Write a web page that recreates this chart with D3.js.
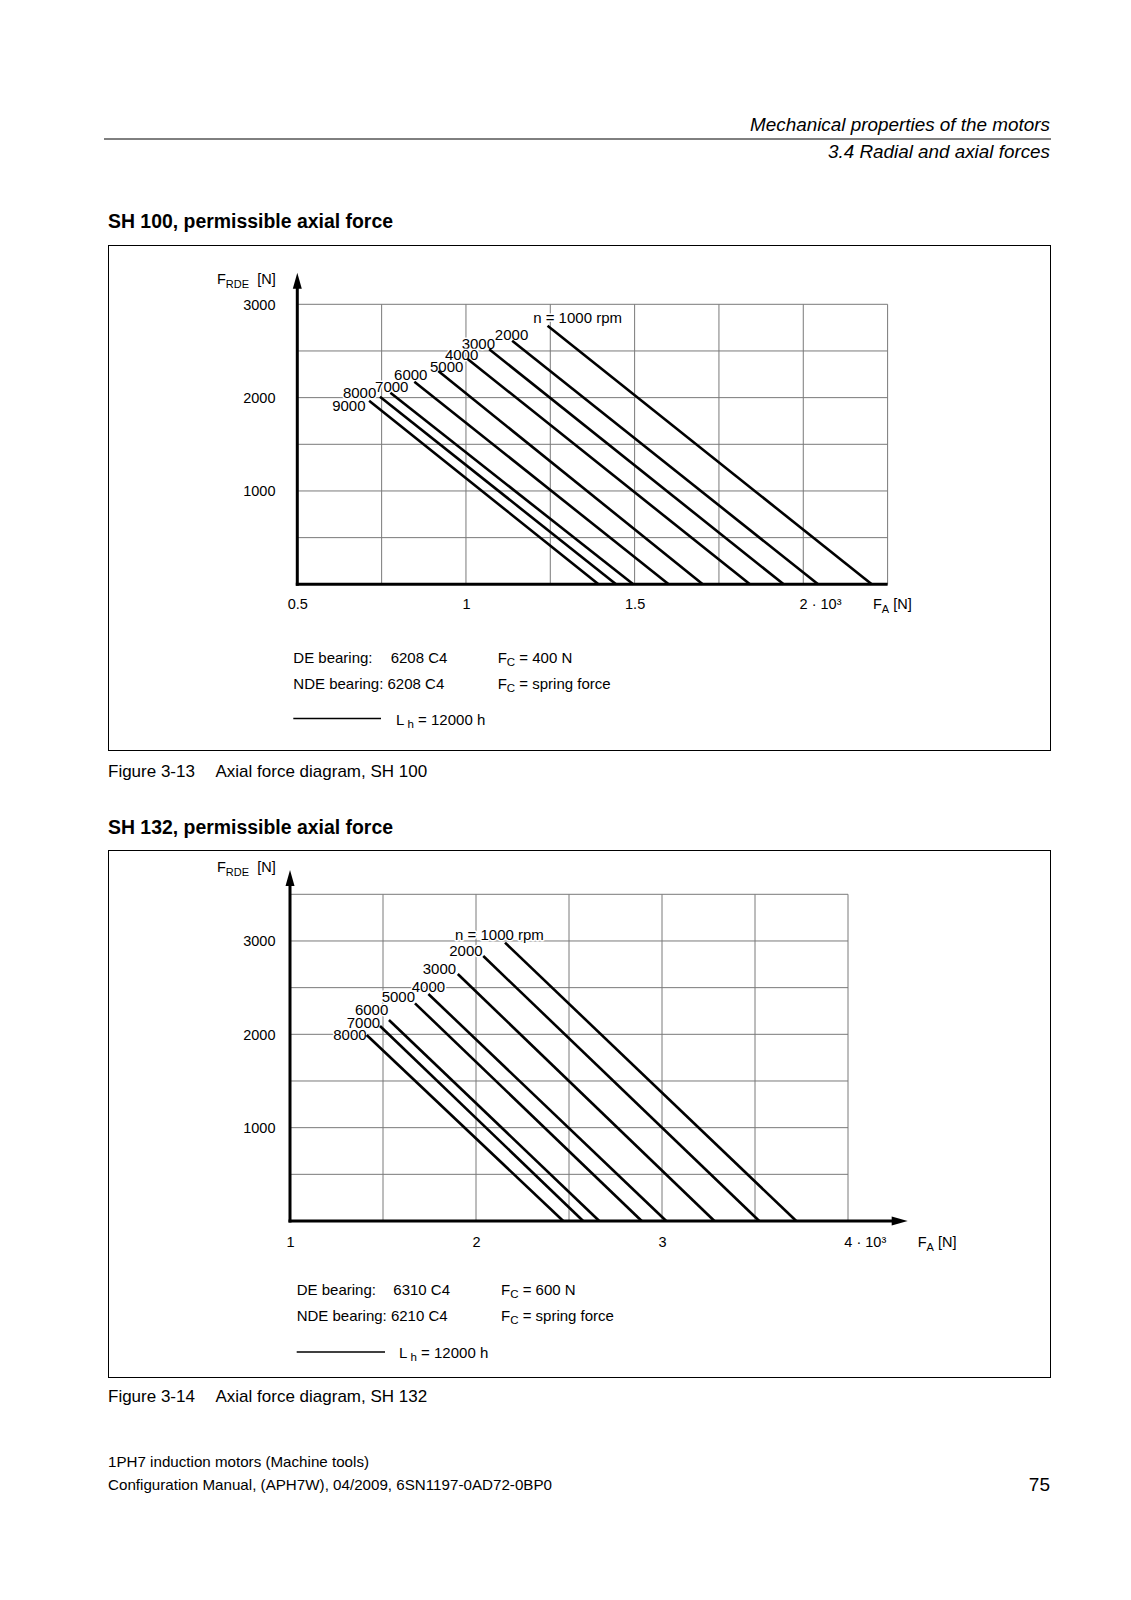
<!DOCTYPE html>
<html><head><meta charset="utf-8">
<script src="https://cdn.jsdelivr.net/npm/d3@7"></script>
<style>
body{margin:0;background:#fff}
svg{display:block}
text{font-family:"Liberation Sans",Arial,sans-serif;fill:#000}
</style>
</head><body>
<svg id="page" width="1131" height="1600"></svg>
<script>
// ---------------- DATA ----------------
// SH 100 (x in 10^3 N, y in N)
const speeds100 = [1000,2000,3000,4000,5000,6000,7000,8000,9000];
const curveLabels100 = ["n = 1000 rpm","2000","3000","4000","5000","6000","7000","8000","9000"];
const startFA100 = [1.242,1.137,1.069,1.005,0.918,0.847,0.776,0.745,0.713];
const startFR100 = [2771,2610,2518,2414,2285,2171,2053,2010,1967];
const endFA100   = [2.203,2.044,1.942,1.842,1.702,1.601,1.496,1.445,1.393];
const xTicks100 = [0.5,1,1.5,2];
const xTickLabels100 = ["0.5","1","1.5","2 · 10³"];
const xGrid100 = [0.5,0.75,1,1.25,1.5,1.75,2,2.25];
const yTicks100 = [1000,2000,3000];
const yGrid100 = [0,500,1000,1500,2000,2500,3000];
const legend100 = {de:"6208 C4", nde:"6208 C4", fc:"400 N", lh:"12000 h"};

// SH 132
const speeds132 = [1000,2000,3000,4000,5000,6000,7000,8000];
const curveLabels132 = ["n = 1000 rpm","2000","3000","4000","5000","6000","7000","8000"];
const startFA132 = [2.156,2.039,1.902,1.744,1.672,1.532,1.484,1.412];
const startFR132 = [2982,2839,2646,2432,2332,2154,2089,1993];
const endFA132   = [3.722,3.523,3.282,3.023,2.891,2.663,2.576,2.469];
const xTicks132 = [1,2,3,4];
const xTickLabels132 = ["1","2","3","4 · 10³"];
const xGrid132 = [1,1.5,2,2.5,3,3.5,4];
const yTicks132 = [1000,2000,3000];
const yGrid132 = [0,500,1000,1500,2000,2500,3000,3500];
const legend132 = {de:"6310 C4", nde:"6210 C4", fc:"600 N", lh:"12000 h"};

// ---------------- LAYOUT ----------------
const svg = d3.select("#page");
const FONT = '"Liberation Sans",Arial,sans-serif';

function txt(g, x, y, parts, opt){
  opt = opt||{};
  const t = g.append("text").attr("x",x).attr("y",y)
    .attr("dominant-baseline","central")
    .style("font-size",(opt.size||14)+"px")
    .style("font-weight",opt.weight||"normal")
    .style("font-style",opt.italic?"italic":"normal")
    .attr("text-anchor",opt.anchor||"start");
  if(opt.len){t.attr("textLength",opt.len).attr("lengthAdjust","spacingAndGlyphs");}
  if(typeof parts==="string"){t.text(parts);}
  else parts.forEach(p=>{
    const s=t.append("tspan").text(p.t);
    if(p.sub){s.attr("dy",p.dy||4).style("font-size",(p.size||11)+"px");}
    if(p.back){s.attr("dy",-(p.back));}
  });
  return t;
}

// Page header
svg.append("line").attr("x1",104).attr("x2",1051).attr("y1",139).attr("y2",139)
  .attr("stroke","#000").attr("stroke-width",1);
txt(svg,750,124.5,"Mechanical properties of the motors",{size:18.5,italic:true,len:300});
txt(svg,828,151,"3.4 Radial and axial forces",{size:18.5,italic:true,len:222});

function chart(cfg){
  const g = svg.append("g");
  txt(svg,108,cfg.titleY,cfg.title,{size:20,weight:"bold",len:285});
  g.append("rect").attr("x",108.5).attr("y",cfg.boxTop+0.5).attr("width",942)
    .attr("height",cfg.boxBottom-cfg.boxTop).attr("fill","none").attr("stroke","#000").attr("stroke-width",1);
  txt(svg,108,cfg.capY,cfg.capA,{size:17});
  txt(svg,215.5,cfg.capY,cfg.capB,{size:17});

  const x = d3.scaleLinear().domain(cfg.xDom).range(cfg.xRange);
  const y = d3.scaleLinear().domain(cfg.yDom).range(cfg.yRange);
  const [x0,x1] = cfg.xRange, [y0,y1] = cfg.yRange;

  // grid
  g.append("g").selectAll("line").data(cfg.xGrid).join("line")
    .attr("x1",d=>x(d)).attr("x2",d=>x(d)).attr("y1",y1).attr("y2",y0)
    .attr("stroke","#7a7a7a").attr("stroke-width",1);
  g.append("g").selectAll("line").data(cfg.yGrid).join("line")
    .attr("x1",x0).attr("x2",x1).attr("y1",d=>y(d)).attr("y2",d=>y(d))
    .attr("stroke","#7a7a7a").attr("stroke-width",1);

  // curve labels with white halo
  const n = cfg.speeds.length;
  const pts = d3.range(n).map(i=>({s:[cfg.sFA[i],cfg.sFR[i]], e:[cfg.eFA[i],0], lab:cfg.labels[i], off:cfg.offs[i]}));
  g.append("g").selectAll("text").data(pts).join("text")
    .attr("x",d=>x(d.s[0])+d.off[0]).attr("y",d=>y(d.s[1])+d.off[1])
    .attr("dominant-baseline","central")
    .style("font-size","15px")
    .attr("stroke","#fff").attr("stroke-width",3).attr("paint-order","stroke")
    .style("stroke-linejoin","round")
    .text(d=>d.lab);

  // curves
  const line = d3.line().x(d=>x(d[0])).y(d=>y(d[1]));
  g.append("g").selectAll("path").data(pts).join("path")
    .attr("d",d=>line([d.s,d.e])).attr("fill","none").attr("stroke","#000").attr("stroke-width",2.6);

  // axes
  g.append("line").attr("x1",x0).attr("x2",x0).attr("y1",y0+1.5).attr("y2",cfg.yArrowTip+14)
    .attr("stroke","#000").attr("stroke-width",3);
  g.append("path").attr("d",`M${x0},${cfg.yArrowTip} L${x0-4.5},${cfg.yArrowTip+16} L${x0+4.5},${cfg.yArrowTip+16} Z`).attr("fill","#000");
  const xEnd = cfg.xArrowTip ? cfg.xArrowTip-14 : x1;
  g.append("line").attr("x1",x0-1.5).attr("x2",xEnd).attr("y1",y0).attr("y2",y0)
    .attr("stroke","#000").attr("stroke-width",3);
  if(cfg.xArrowTip){
    g.append("path").attr("d",`M${cfg.xArrowTip},${y0} L${cfg.xArrowTip-16},${y0-4.5} L${cfg.xArrowTip-16},${y0+4.5} Z`).attr("fill","#000");
  }

  // tick labels via d3 axes
  const ax = g.append("g").attr("transform",`translate(0,${y0})`)
    .call(d3.axisBottom(x).tickValues(cfg.xTicks).tickFormat((d,i)=>cfg.xTickLabels[i]).tickSize(0).tickPadding(0));
  ax.select(".domain").remove();
  ax.selectAll("text").attr("y",cfg.xLabOff).attr("dy",null).attr("dominant-baseline","central")
    .style("font-family",FONT).style("font-size","14.5px").attr("fill","#000");
  ax.selectAll(".tick").filter((d,i)=>i===cfg.xTicks.length-1).select("text")
    .attr("text-anchor","start").attr("x",-4.2);

  const ay = g.append("g").attr("transform",`translate(${cfg.yLabX},0)`)
    .call(d3.axisLeft(y).tickValues(cfg.yTicks).tickFormat(d3.format("d")).tickSize(0).tickPadding(0));
  ay.select(".domain").remove();
  ay.selectAll("text").attr("dy",null).attr("dominant-baseline","central")
    .style("font-family",FONT).style("font-size","14.5px").attr("fill","#000");

  // axis names
  txt(g,217,cfg.yNameY,[{t:"F"},{t:"RDE",sub:true,dy:5,size:11},{t:"\u00a0\u00a0[N]",back:5}],{size:14.5});
  txt(g,cfg.xNameX,y0+cfg.xLabOff,[{t:"F"},{t:"A",sub:true,dy:5,size:11},{t:" [N]",back:5}],{size:14.5});

  // legend
  const L = cfg.leg;
  txt(g,L.x,L.y1,"DE bearing:",{size:15});
  txt(g,L.xv,L.y1,cfg.legend.de,{size:15});
  txt(g,L.x,L.y2,"NDE bearing: "+cfg.legend.nde,{size:15});
  txt(g,L.xc,L.y1,[{t:"F"},{t:"C",sub:true,dy:5,size:11.5},{t:" = "+cfg.legend.fc,back:5}],{size:15});
  txt(g,L.xc,L.y2,[{t:"F"},{t:"C",sub:true,dy:5,size:11.5},{t:" = spring force",back:5}],{size:15});
  g.append("line").attr("x1",L.x).attr("x2",L.lx2).attr("y1",L.y3).attr("y2",L.y3).attr("stroke","#000").attr("stroke-width",1.3);
  txt(g,L.lt,L.y3,[{t:"L"},{t:"\u00a0h",sub:true,dy:5,size:11.5},{t:" = "+cfg.legend.lh,back:5}],{size:15});
}

chart({
  title:"SH 100, permissible axial force", titleY:220.5,
  boxTop:245, boxBottom:750,
  capY:771, capA:"Figure 3-13", capB:"Axial force diagram, SH 100",
  xDom:[0.5,2.25], xRange:[297.3,887.6], yDom:[0,3000], yRange:[584.3,304.3],
  xGrid:xGrid100, yGrid:yGrid100, xTicks:xTicks100, xTickLabels:xTickLabels100, yTicks:yTicks100,
  speeds:speeds100, labels:curveLabels100, sFA:startFA100, sFR:startFR100, eFA:endFA100,
  offs:[[-14.4,-8.4],[-17.3,-6.7],[-27.6,-6],[-22.7,-4],[-8.3,-4.3],[-20.3,-6.7],[-15.3,-6],[-37,-4],[-37,4.3]],
  yArrowTip:272.7, xArrowTip:null, xLabOff:20, yLabX:275.5, yNameY:279, xNameX:873,
  legend:legend100,
  leg:{x:293.3,xv:390.7,xc:497.7,y1:657,y2:683,y3:718.5,lx2:381,lt:396}
});

chart({
  title:"SH 132, permissible axial force", titleY:827,
  boxTop:850, boxBottom:1377,
  capY:1396.5, capA:"Figure 3-14", capB:"Axial force diagram, SH 132",
  xDom:[1,4], xRange:[290,848], yDom:[0,3500], yRange:[1221,894.3],
  xGrid:xGrid132, yGrid:yGrid132, xTicks:xTicks132, xTickLabels:xTickLabels132, yTicks:yTicks132,
  speeds:speeds132, labels:curveLabels132, sFA:startFA132, sFR:startFR132, eFA:endFA132,
  offs:[[-50,-7.7],[-34,-5.3],[-35,-5.7],[-16.6,-7.3],[-33.3,-6.6],[-34,-10],[-33.3,-3.3],[-33.4,0]],
  yArrowTip:870, xArrowTip:907.7, xLabOff:20.7, yLabX:275.5, yNameY:866.7, xNameX:917.7,
  legend:legend132,
  leg:{x:296.7,xv:393.3,xc:501,y1:1289,y2:1315,y3:1352,lx2:385,lt:399}
});

// footer
txt(svg,108,1461,"1PH7 induction motors (Machine tools)",{size:15,len:261});
txt(svg,108,1484,"Configuration Manual, (APH7W), 04/2009, 6SN1197-0AD72-0BP0",{size:15,len:444});
txt(svg,1050,1484,"75",{size:19,anchor:"end"});
</script>
</body></html>
